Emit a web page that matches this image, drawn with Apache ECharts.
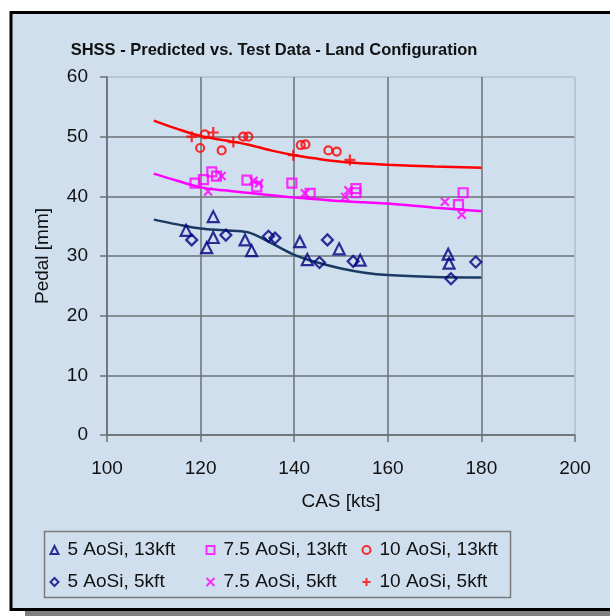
<!DOCTYPE html>
<html>
<head>
<meta charset="utf-8">
<script src="https://cdn.jsdelivr.net/npm/echarts@6/dist/echarts.min.js"></script>
<style>
  html, body { margin: 0; padding: 0; background: #fff; }
  #chart { width: 610px; height: 616px; }
</style>
</head>
<body>
<div id="chart"></div>
<script>
// predicted curves
const predCas = [110, 115, 120, 125, 130, 135, 140, 145, 150, 155, 160, 170, 180];
const pred5 = [36.1, 35.3, 34.6, 34.3, 34.0, 32.2, 30.2, 28.9, 27.9, 27.2, 26.8, 26.5, 26.4];
const pred75 = [43.8, 42.6, 41.5, 41.0, 40.6, 40.2, 39.8, 39.5, 39.2, 39.0, 38.8, 38.1, 37.5];
const pred10 = [52.7, 51.3, 50.1, 49.4, 48.7, 47.7, 46.9, 46.3, 45.8, 45.5, 45.3, 45.0, 44.8];

// test data [CAS, pedal]
const aosi5_13k = [[116.9, 34.3], [122.7, 36.6], [122.7, 33.1], [121.3, 31.4], [129.5, 32.7],
  [130.9, 30.9], [141.2, 32.4], [142.8, 29.4], [149.6, 31.2], [154.1, 29.3], [172.9, 30.3], [173.1, 28.8]];
const aosi5_5k = [[118.1, 32.7], [125.4, 33.5], [134.5, 33.3], [135.9, 33.0], [147.1, 32.7],
  [145.4, 28.9], [152.6, 29.1], [178.8, 29.0], [173.5, 26.2]];
const aosi75_13k = [[118.8, 42.2], [120.6, 42.8], [122.4, 44.1], [123.4, 43.4], [129.9, 42.7], [132.0, 41.6],
  [139.5, 42.2], [143.4, 40.5], [153.2, 41.3], [153.2, 40.6], [176.1, 40.6], [175.1, 38.6]];
const aosi75_5k = [[121.6, 40.8], [124.5, 43.4], [131.3, 42.6], [132.5, 42.2], [142.3, 40.5],
  [150.9, 39.9], [151.6, 41.0], [172.2, 39.1], [175.8, 36.9]];
const aosi10_13k = [[119.9, 48.1], [120.9, 50.4], [124.5, 47.7], [129.1, 50.0], [130.2, 50.0],
  [141.4, 48.6], [142.4, 48.7], [147.3, 47.7], [149.1, 47.5]];
const aosi10_5k = [[118.1, 50.0], [122.7, 50.7], [127.0, 49.1], [139.8, 46.9], [151.9, 46.1]];

const xTicks = [100, 120, 140, 160, 180, 200];
const yTicks = [0, 10, 20, 30, 40, 50, 60];

const FONT = '"Liberation Sans", Arial, sans-serif';
const BG = '#cfdfee';
const GRID = '#6d7276';
const EDGE = '#adc3c6';
const NAVY = '#000080';

const CROSS = 'path://M0,0L10,10M10,0L0,10';
const PLUS = 'path://M5,0L5,10M0,5L10,5';

const chart = echarts.init(document.getElementById('chart'), null, { renderer: 'canvas' });

function pts(name, data, symbol, size, color) {
  return {
    name, type: 'scatter', data, symbol, symbolSize: size, z: 3,
    itemStyle: { color: 'none', borderColor: color, borderWidth: 2.2 },
  };
}

function curve(data, color) {
  return {
    type: 'line', data: predCas.map((c, i) => [c, data[i]]),
    smooth: 0.35, symbol: 'none', silent: true, z: 2,
    lineStyle: { color, width: 2.5 },
  };
}

function legendCol(left, names) {
  return {
    orient: 'vertical', left, top: 540, padding: 0,
    itemWidth: 8, itemHeight: 8, itemGap: 12,
    data: names,
    textStyle: { fontFamily: FONT, fontSize: 19, color: '#111', lineHeight: 20, padding: [0, 0, 0, 4] },
  };
}

const xCols = xTicks.map((_, i) => (i === xTicks.length - 1 ? EDGE : GRID));
const yCols = yTicks.map((_, i) => (i === yTicks.length - 1 ? EDGE : GRID));

chart.setOption({
  backgroundColor: '#fff',
  animation: false,
  title: {
    text: 'SHSS - Predicted vs. Test Data - Land Configuration',
    left: 269, top: 37, textAlign: 'center',
    textStyle: { fontFamily: FONT, fontSize: 16.5, fontWeight: 'bold', color: '#111' },
  },
  graphic: [
    { type: 'rect', z: -10, shape: { x: 25, y: 608, width: 600, height: 10 }, style: { fill: '#808080' } },
    { type: 'rect', z: -9, shape: { x: 11, y: 12.5, width: 640, height: 597 },
      style: { fill: BG, stroke: '#000', lineWidth: 3 } },
    { type: 'rect', z: -5, shape: { x: 44.5, y: 531.5, width: 466, height: 66 },
      style: { fill: BG, stroke: '#7a7a7a', lineWidth: 1.5 } },
  ],
  grid: { left: 107, top: 77, right: 35, bottom: 181 },
  xAxis: {
    type: 'value', min: 100, max: 200, interval: 20,
    name: 'CAS [kts]', nameLocation: 'middle', nameGap: 57,
    nameTextStyle: { fontFamily: FONT, fontSize: 19, color: '#111' },
    axisLine: { onZero: false, lineStyle: { color: GRID, width: 1.5 } },
    axisTick: { show: true, length: 7, lineStyle: { color: GRID, width: 1.5 } },
    axisLabel: { fontFamily: FONT, fontSize: 19, color: '#111', margin: 24 },
    splitLine: { show: true, lineStyle: { color: xCols, width: 1.5 } },
  },
  yAxis: {
    type: 'value', min: 0, max: 60, interval: 10,
    name: 'Pedal [mm]', nameLocation: 'middle', nameGap: 55,
    nameTextStyle: { fontFamily: FONT, fontSize: 19, color: '#111' },
    axisLine: { show: true, lineStyle: { color: GRID, width: 1.5 } },
    axisTick: { show: true, length: 7, lineStyle: { color: GRID, width: 1.5 } },
    axisLabel: { fontFamily: FONT, fontSize: 19, color: '#111', margin: 19 },
    splitLine: { show: true, lineStyle: { color: yCols, width: 1.5 } },
  },
  legend: [
    legendCol(48, ['5 AoSi, 13kft', '5 AoSi, 5kft']),
    legendCol(204, ['7.5 AoSi, 13kft', '7.5 AoSi, 5kft']),
    legendCol(360, ['10 AoSi, 13kft', '10 AoSi, 5kft']),
  ],
  series: [
    curve(pred5, '#1a3a62'),
    curve(pred75, '#ff00ff'),
    curve(pred10, '#ff0000'),
    pts('5 AoSi, 13kft', aosi5_13k, 'triangle', 11, NAVY),
    pts('5 AoSi, 5kft', aosi5_5k, 'diamond', 11, NAVY),
    pts('7.5 AoSi, 13kft', aosi75_13k, 'rect', 9, '#ff00ff'),
    pts('7.5 AoSi, 5kft', aosi75_5k, CROSS, 8, '#ff00ff'),
    pts('10 AoSi, 13kft', aosi10_13k, 'circle', 8, '#ff0000'),
    pts('10 AoSi, 5kft', aosi10_5k, PLUS, 11, '#ff0000'),
  ],
});
</script>
</body>
</html>
